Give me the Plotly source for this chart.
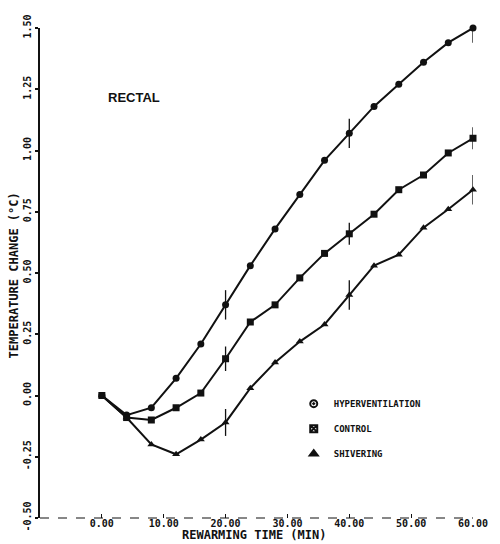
import plotly.graph_objects as go

# Rewarming time (min) and mean rectal temperature change (deg C)
time_min = [0, 4, 8, 12, 16, 20, 24, 28, 32, 36, 40, 44, 48, 52, 56, 60]
hyperventilation = [0.00, -0.08, -0.05, 0.07, 0.21, 0.37, 0.53, 0.68, 0.82, 0.96,
                    1.07, 1.18, 1.27, 1.36, 1.44, 1.50]
control = [0.00, -0.09, -0.10, -0.05, 0.01, 0.15, 0.30, 0.37, 0.48, 0.58,
           0.66, 0.74, 0.84, 0.90, 0.99, 1.05]
shivering = [0.00, -0.09, -0.20, -0.24, -0.18, -0.11, 0.03, 0.135, 0.22, 0.29,
             0.41, 0.53, 0.575, 0.685, 0.76, 0.84]

# Standard errors, shown at 20, 40 and 60 min only
hyper_se = [0, 0, 0, 0, 0, 0.06, 0, 0, 0, 0, 0.06, 0, 0, 0, 0, 0.06]
control_se = [0, 0, 0, 0, 0, 0.05, 0, 0, 0, 0, 0.045, 0, 0, 0, 0, 0.045]
shiver_se = [0, 0, 0, 0, 0, 0.055, 0, 0, 0, 0, 0.06, 0, 0, 0, 0, 0.06]

series_names = ["HYPERVENTILATION", "CONTROL", "SHIVERING"]
series_symbols = ["circle", "square", "triangle-up"]
legend_symbols = ["circle-open-dot", "square-x-open", "triangle-up"]

x_ticks = [0, 10, 20, 30, 40, 50, 60]
x_ticktext = ["0.00", "10.00", "20.00", "30.00", "40.00", "50.00", "60.00"]
y_ticks = [-0.5, -0.25, 0, 0.25, 0.5, 0.75, 1.0, 1.25, 1.5]
y_ticktext = ["-0.50", "-0.25", "0.00", "0.25", "0.50", "0.75", "1.00", "1.25", "1.50"]

ink = "#111111"
label_font = dict(family="DejaVu Sans Mono", size=10, color=ink, weight="bold")

fig = go.Figure()

for name, ys, se, sym in zip(series_names, [hyperventilation, control, shivering],
                             [hyper_se, control_se, shiver_se], series_symbols):
    fig.add_trace(go.Scatter(
        x=time_min, y=ys, mode="lines+markers", name=name, showlegend=False,
        cliponaxis=False,
        line=dict(color=ink, width=2),
        marker=dict(symbol=sym, size=7, color=ink),
        error_y=dict(type="data", array=se, visible=True, color=ink,
                     thickness=1.3, width=0),
    ))

# Marker-only legend entries
for i, (name, sym) in enumerate(zip(series_names, legend_symbols)):
    fig.add_trace(go.Scatter(
        x=[None], y=[None], mode="markers", name=name, legendgroup=f"g{i}",
        marker=dict(symbol=sym, size=7, color=ink, line=dict(color=ink, width=2)),
    ))

fig.update_layout(
    width=500, height=544,
    margin=dict(l=40, r=23, t=28, b=26),
    paper_bgcolor="white", plot_bgcolor="white",
    showlegend=True,
    legend=dict(x=0.586, y=0.263, xanchor="left", yanchor="top",
                font=dict(family="DejaVu Sans Mono", size=9, color=ink, weight="bold"),
                bgcolor="rgba(0,0,0,0)", tracegroupgap=6, traceorder="grouped",
                itemwidth=30),
    xaxis=dict(range=[-10, 60], showgrid=False, zeroline=False, showline=False,
               tickmode="array", tickvals=x_ticks, ticktext=x_ticktext,
               ticks="inside", ticklen=4, tickcolor=ink, tickwidth=1.2,
               tickfont=label_font, ticklabelstandoff=-2),
    yaxis=dict(range=[-0.5, 1.5], showgrid=False, zeroline=False,
               showline=True, linecolor=ink, linewidth=2,
               tickmode="array", tickvals=y_ticks, ticktext=y_ticktext,
               ticks="outside", ticklen=3, tickcolor=ink, tickwidth=1.5,
               tickangle=-90, tickfont=label_font),
    shapes=[dict(type="line", xref="paper", yref="paper", x0=0, x1=1, y0=0, y1=0,
                 line=dict(color=ink, width=1.2, dash="dash"))],
    annotations=[
        dict(text="RECTAL", xref="paper", yref="paper", x=0.217, y=0.859,
             xanchor="center", yanchor="middle", showarrow=False,
             font=dict(family="Liberation Sans", size=13, color=ink, weight="bold")),
        dict(text="REWARMING TIME (MIN)", xref="paper", yref="paper",
             x=0.495, y=-0.053, xanchor="center", yanchor="bottom", showarrow=False,
             font=dict(family="DejaVu Sans Mono", size=12, color=ink, weight="bold")),
        dict(text="TEMPERATURE CHANGE (°C)", xref="paper", yref="paper",
             x=-0.059, y=0.496, textangle=-90, xanchor="center", yanchor="middle",
             showarrow=False,
             font=dict(family="DejaVu Sans Mono", size=12, color=ink, weight="bold")),
    ],
)

fig.write_html("out.html")
